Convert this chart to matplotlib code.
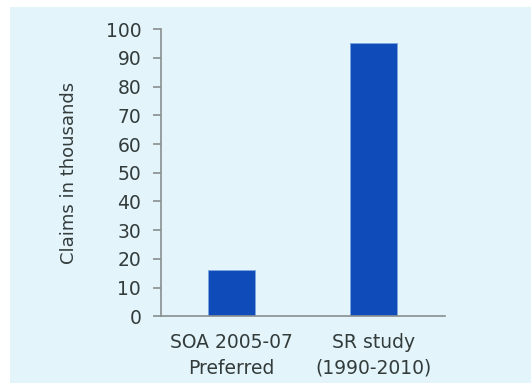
import matplotlib
matplotlib.use('Agg')
import matplotlib.pyplot as plt
from matplotlib.patches import Rectangle

# claims counts per study, in thousands
studies = ['SOA 2005-07\nPreferred', 'SR study\n(1990-2010)']
claims = [16.2, 95.3]
yticks = list(range(0, 101, 10))

bg = '#e3f4fb'
bar_col = '#0f4bb9'
axis_col = '#8a8f90'
text_col = '#333c3b'

plt.rcParams['font.family'] = ['DejaVu Sans']

fig = plt.figure(figsize=(5.31, 3.83), dpi=100)
fig.patch.set_facecolor('white')
# light panel behind the chart
fig.patches.append(Rectangle((10 / 531, 0), 1 - 10 / 531, 1 - 7 / 383,
                             transform=fig.transFigure, facecolor=bg,
                             edgecolor='none', zorder=-5))

ax = fig.add_axes([0.3026, 0.1742, 0.838 - 0.3026, 0.9235 - 0.1742])
ax.set_facecolor('none')

ax.bar(range(len(studies)), claims, width=0.33, color=bar_col,
       edgecolor='#7da6df', linewidth=0.6)

ax.set_xlim(-0.5, 1.5)
ax.set_ylim(0, 100)
ax.set_yticks(yticks)
ax.set_xticks(range(len(studies)))
ax.set_xticklabels(studies, linespacing=1.45)

for side in ['top', 'right']:
    ax.spines[side].set_visible(False)
for side in ['left', 'bottom']:
    ax.spines[side].set_color(axis_col)
    ax.spines[side].set_linewidth(1.2)

ax.tick_params(axis='y', length=6, width=1.2, color=axis_col, labelsize=13.5,
               labelcolor=text_col, pad=8)
ax.tick_params(axis='x', length=0, labelsize=13.5, labelcolor=text_col, pad=12)

ax.set_ylabel('Claims in thousands', fontsize=13, color=text_col, labelpad=20)

fig.savefig('out.png', dpi=100)
